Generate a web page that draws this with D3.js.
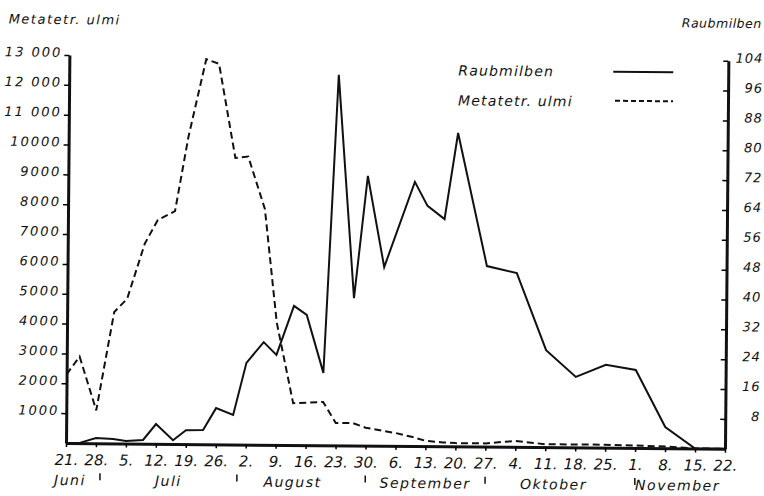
<!DOCTYPE html>
<html>
<head>
<meta charset="utf-8">
<script src="https://cdn.jsdelivr.net/npm/d3@7"></script>
<style>
  body { margin: 0; background: #fff; }
  text { font-family: "DejaVu Sans", sans-serif; font-style: oblique; fill: #111; }
</style>
</head>
<body>
<svg width="764" height="496"></svg>
<script>
// Values (1953 used only to get the weekdays right)
var raubDates = ["06-21","06-24","06-28","07-02","07-05","07-09","07-12","07-16","07-19","07-23",
  "07-26","07-30","08-02","08-06","08-09","08-13","08-16","08-20","08-23","08-27","08-30","09-03",
  "09-10","09-13","09-17","09-20","09-27","10-04","10-11","10-18","10-25","11-01","11-08","11-15","11-22"];
var raubValues = [0, 0, 1.4, 1.2, 0.7, 1.0, 5.3, 1.0, 3.7, 3.8,
  9.7, 7.9, 21.9, 27.5, 24.1, 37.3, 34.9, 19.4, 99.3, 39.5, 72.3, 47.9,
  70.8, 64.4, 60.9, 84.0, 48.4, 46.6, 26.0, 18.9, 22.2, 20.9, 5.7, 0, 0];

var metaDates = ["06-21","06-24","06-28","07-02","07-05","07-09","07-12","07-16","07-19","07-23",
  "07-26","07-30","08-02","08-06","08-09","08-13","08-16","08-20","08-23","08-27","08-30","09-03",
  "09-06","09-10","09-13","09-17","09-20","09-27","10-04","10-11","10-18","10-25","11-01","11-08","11-15","11-22"];
var metaValues = [2300, 2900, 1100, 4400, 4850, 6700, 7500, 7800, 10300, 12900,
  12750, 9600, 9650, 7900, 4100, 1400, 1420, 1450, 750, 750, 600, 500,
  430, 300, 180, 130, 110, 110, 200, 100, 100, 100, 80, 60, 0, 0];

var leftTicks = [1000, 2000, 3000, 4000, 5000, 6000, 7000, 8000, 9000, 10000, 11000, 12000, 13000];
var leftTickLabels = ["1000","2000","3000","4000","5000","6000","7000","8000","9000","10000","11 000","12 000","13 000"];
var rightTicks = [8, 16, 24, 32, 40, 48, 56, 64, 72, 80, 88, 96, 104];
var weekLabels = ["21.","28.","5.","12.","19.","26.","2.","9.","16.","23.","30.","6.","13.","20.","27.",
  "4.","11.","18.","25.","1.","8.","15.","22."];
var months = ["Juni", "Juli", "August", "September", "Oktober", "November"];
var monthCenters = ["06-22", "07-15", "08-13", "09-13", "10-13", "11-11"];
var monthMarks = ["06-29", "07-31", "08-30", "09-27", "11-01"];

var parse = function(s) { return d3.timeParse("%Y-%m-%d")("1953-" + s); };

var svg = d3.select("svg");
// the scan is tilted a little, so tilt the whole drawing the same way
var g = svg.append("g").attr("transform", "rotate(0.5,66,443)");

var x = d3.scaleTime().domain([parse("06-21"), parse("11-22")]).range([66, 725]);
var yL = d3.scaleLinear().domain([0, 13000]).range([443, 55]);
var yR = d3.scaleLinear().domain([0, 104]).range([443, 55]);

// left axis
var left = g.append("g").attr("transform", "translate(66,0)")
  .call(d3.axisLeft(yL).tickValues(leftTicks)
    .tickFormat(function(d, i) { return leftTickLabels[i]; })
    .tickSize(5).tickSizeOuter(0).tickPadding(2));
left.select(".domain").attr("stroke-width", 3).attr("stroke", "#111");
left.selectAll(".tick line").attr("stroke-width", 1.5);
left.selectAll("text").attr("font-size", 13).attr("letter-spacing", 2)
  .attr("font-family", null).attr("dy", "0.1em");

// right axis, ticks inward, labels right aligned at the page edge
var right = g.append("g").attr("transform", "translate(725,0)")
  .call(d3.axisRight(yR).tickValues(rightTicks).tickSize(-5).tickSizeOuter(0));
right.select(".domain").attr("stroke-width", 3).attr("stroke", "#111");
right.selectAll(".tick line").attr("stroke-width", 1.5);
right.selectAll("text").attr("font-size", 13).attr("letter-spacing", 1)
  .attr("font-family", null).attr("x", 35).attr("text-anchor", "end").attr("dy", "0.1em");

// bottom axis
var weeks = d3.timeWeek.range(parse("06-21"), parse("11-23"));
var bottom = g.append("g").attr("transform", "translate(0,443)")
  .call(d3.axisBottom(x).tickValues(weeks)
    .tickFormat(function(d, i) { return weekLabels[i]; })
    .tickSize(4).tickSizeOuter(0));
bottom.select(".domain").attr("stroke-width", 3).attr("stroke", "#111");
bottom.selectAll(".tick line").attr("stroke-width", 1.5);
bottom.selectAll("text").attr("font-size", 15).attr("font-family", null)
  .attr("y", 22).attr("dy", 0);

// month names and the little month separators
g.selectAll(".month").data(months).enter().append("text")
  .attr("class", "month")
  .attr("x", function(d, i) { return x(parse(monthCenters[i])); })
  .attr("y", 485)
  .attr("text-anchor", "middle")
  .attr("font-size", 14).attr("letter-spacing", 1.5)
  .text(function(d) { return d; });
g.selectAll(".mmark").data(monthMarks).enter().append("line")
  .attr("x1", function(d) { return x(parse(d)); })
  .attr("x2", function(d) { return x(parse(d)); })
  .attr("y1", 473).attr("y2", 480)
  .attr("stroke", "#111").attr("stroke-width", 1.5);

// series
var raub = raubDates.map(function(d, i) { return { date: parse(d), v: raubValues[i] }; });
var meta = metaDates.map(function(d, i) { return { date: parse(d), v: metaValues[i] }; });

g.append("path").datum(meta)
  .attr("fill", "none").attr("stroke", "#111").attr("stroke-width", 2)
  .attr("stroke-dasharray", "7,4")
  .attr("d", d3.line().x(function(d) { return x(d.date); }).y(function(d) { return yL(d.v); }));

g.append("path").datum(raub)
  .attr("fill", "none").attr("stroke", "#111").attr("stroke-width", 2)
  .attr("stroke-linejoin", "miter")
  .attr("d", d3.line().x(function(d) { return x(d.date); }).y(function(d) { return yR(d.v); }));

// axis titles
g.append("text").attr("x", 5).attr("y", 24)
  .attr("font-size", 13).attr("letter-spacing", 1.5).text("Metatetr. ulmi");
g.append("text").attr("x", 758).attr("y", 22).attr("text-anchor", "end")
  .attr("font-size", 12.5).attr("letter-spacing", 0.5).text("Raubmilben");

// legend
var legend = g.append("g");
legend.append("text").attr("x", 455).attr("y", 72)
  .attr("font-size", 14).attr("letter-spacing", 1.2).text("Raubmilben");
legend.append("line").attr("x1", 610).attr("x2", 670).attr("y1", 67).attr("y2", 67)
  .attr("stroke", "#111").attr("stroke-width", 2);
legend.append("text").attr("x", 455).attr("y", 102)
  .attr("font-size", 14).attr("letter-spacing", 1.2).text("Metatetr. ulmi");
legend.append("line").attr("x1", 612).attr("x2", 670).attr("y1", 96).attr("y2", 96)
  .attr("stroke", "#111").attr("stroke-width", 2).attr("stroke-dasharray", "5,3");
</script>
</body>
</html>
